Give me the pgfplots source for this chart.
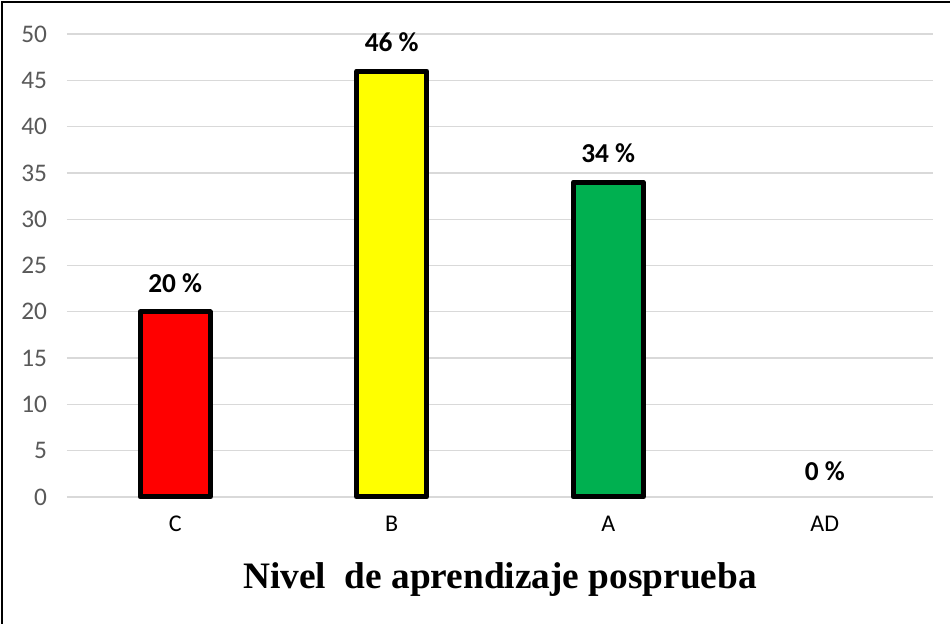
\documentclass[border=0pt]{standalone}
\usepackage{pgfplots}
\pgfplotsset{compat=1.18}
\usepackage{fontspec}
\setmainfont{Carlito}
\newfontfamily\timesfont{Liberation Serif}
\definecolor{gridgray}{HTML}{D9D9D9}
\definecolor{ticktext}{HTML}{595959}
\definecolor{exgreen}{HTML}{00B050}
\definecolor{exred}{HTML}{FF0000}
\definecolor{exyellow}{HTML}{FFFF00}
\begin{document}
\begin{tikzpicture}
\fill[white] (-50.25pt,-95.25pt) rectangle (662.25pt,372.75pt);
\begin{axis}[
  at={(0pt,0pt)}, anchor=south west,
  scale only axis,
  width=649.5pt, height=347.25pt,
  xmin=-0.5, xmax=3.5,
  ymin=0, ymax=50,
  ytick={0,5,...,50},
  xtick={0,1,2,3},
  xticklabels={C,B,A,AD},
  axis line style={draw=none},
  major tick length=0pt,
  ymajorgrids,
  grid style={gridgray, line width=0.9pt},
  /pgf/number format/assume math mode=true,
  yticklabel style={font=\fontsize{19}{22}\selectfont, text=ticktext, xshift=-11.5pt},
  xticklabel style={font=\fontsize{18}{21}\selectfont, text=black, yshift=-11pt},
  xlabel={\timesfont\bfseries Nivel\ \ de aprendizaje posprueba},
  xlabel style={font=\fontsize{28}{33}\selectfont, at={(axis description cs:0.5,0)}, anchor=center, yshift=-62pt},
  ybar, bar width=52.5pt, bar shift=0pt,
  nodes near coords={\pgfmathprintnumber{\pgfplotspointmeta}~\%},
  every node near coord/.append style={font=\fontsize{20.5}{24}\selectfont\bfseries, text=black, yshift=9pt},
  clip=false,
]
\addplot[fill=exred, draw=black, line width=3.75pt, line join=round] coordinates {(0,20)};
\addplot[fill=exyellow, draw=black, line width=3.75pt, line join=round] coordinates {(1,46)};
\addplot[fill=exgreen, draw=black, line width=3.75pt, line join=round] coordinates {(2,34)};
\addplot[draw=none, fill=none] coordinates {(3,0)};
\end{axis}
\useasboundingbox (-50.25pt,-95.25pt) rectangle (662.25pt,372.75pt);
\draw[black, line width=1.5pt] (-48.75pt,-95.25pt) -- (-48.75pt,371.25pt) -- (662.25pt,371.25pt);
\end{tikzpicture}
\end{document}
